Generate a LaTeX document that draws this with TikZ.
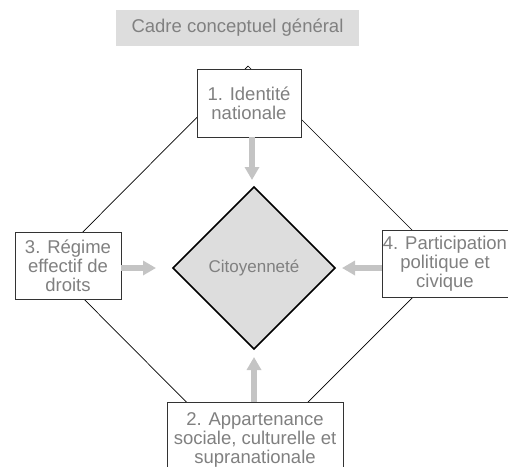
\documentclass[tikz,border=0pt]{standalone}
\usepackage{fontspec}
\setmainfont{Liberation Sans}
\usetikzlibrary{arrows.meta}
\definecolor{txtgray}{HTML}{808080}
\definecolor{boxgray}{HTML}{DDDDDD}
\definecolor{arrgray}{HTML}{C4C4C4}
\tikzset{
  txt/.style={font=\fontsize{18.5}{19}\selectfont, text=txtgray, align=center},
  framebox/.style={txt, draw=black!80, line width=0.9pt, fill=white, inner sep=0pt},
  bigline/.style={draw=black, line width=0.7pt},
  garrow/.style={draw=arrgray, line width=6pt, -{Triangle[width=14pt,length=13pt]}},
}
\begin{document}
\begin{tikzpicture}[x=1pt,y=-1pt]
\useasboundingbox (0,0) rectangle (508,466);
% title
\node[txt, fill=boxgray, minimum width=243pt, minimum height=36pt, inner sep=0pt] (title) at (237.5,28) {Cadre conceptuel général};
% big diamond vertices
\coordinate (vt) at (248,66);
\coordinate (vl) at (50,265);
\coordinate (vb) at (247,463);
\coordinate (vr) at (446,264);
\draw[bigline] (vt) -- (vl) -- (vb) -- (vr) -- cycle;
% boxes
\node[framebox, minimum width=104pt, minimum height=68pt] (n1) at (249,103) {1. Identité\\nationale};
\node[framebox, minimum width=106pt, minimum height=67pt] (n3) at (68,265.5) {3. Régime\\effectif de\\droits};
\node[framebox, minimum width=126pt, minimum height=67pt] (n4) at (445,263.5) {4. Participation\\politique et\\civique};
\node[framebox, minimum width=176pt, minimum height=76pt, anchor=north] (n2) at (255,402) {};
\node[txt, anchor=north] (n2t) at (n2.north) [yshift=-7pt] {2. Appartenance\\sociale, culturelle et\\supranationale};
% central diamond
\coordinate (ct) at (254,187);
\coordinate (cl) at (173,268);
\coordinate (cb) at (254,349);
\coordinate (cr) at (335,268);
\filldraw[fill=boxgray, draw=black, line width=1.6pt, line join=miter] (ct) -- (cr) -- (cb) -- (cl) -- cycle;
\node[txt, font=\fontsize{17}{19}\selectfont] (cit) at (254,268) {Citoyenneté};
% arrows
\coordinate (a1) at (252,180);
\coordinate (a3) at (156,268);
\coordinate (a4) at (342,268);
\coordinate (a2) at (254,357);
\draw[garrow] (n1.south -| a1) -- (a1);
\draw[garrow] (n3.east |- a3) -- (a3);
\draw[garrow] (n4.west |- a4) -- (a4);
\draw[garrow] (n2.north -| a2) -- (a2);
\end{tikzpicture}
\end{document}
